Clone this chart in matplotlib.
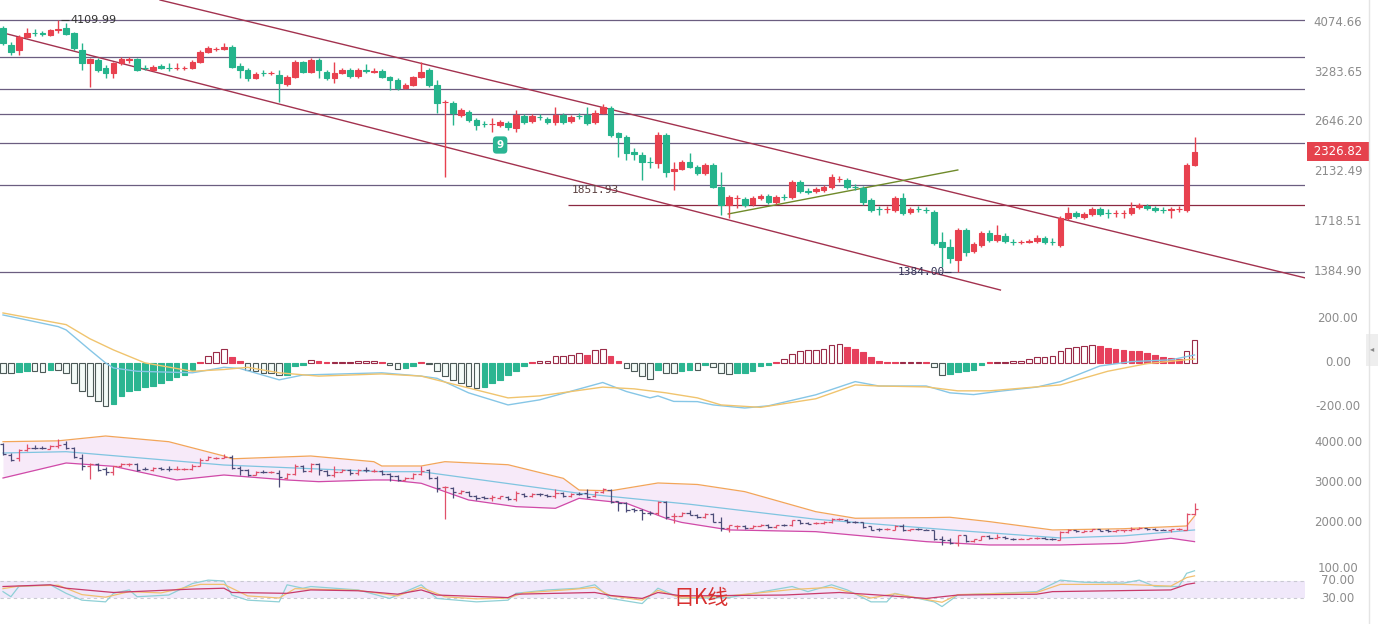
import numpy as np
import matplotlib
matplotlib.use("Agg")
import matplotlib.pyplot as plt

# ---------------- daily candles ----------------
opens = [
    3971, 3689, 3611, 3819, 3886, 3886, 3852, 3936, 3971, 3886,
    3611, 3414, 3458, 3341, 3270, 3414, 3465, 3474, 3341, 3312,
    3370, 3341, 3341, 3336, 3341, 3429, 3580, 3627, 3627, 3658,
    3370, 3312, 3200, 3270, 3265, 3242, 3118, 3214, 3429, 3284,
    3458, 3284, 3200, 3270, 3312, 3228, 3312, 3290, 3298, 3214,
    3172, 3065, 3105, 3214, 3312, 3105, 2885, 2873, 2728, 2763,
    2669, 2624, 2620, 2612, 2635, 2579, 2716, 2658, 2704, 2681,
    2646, 2728, 2658, 2716, 2728, 2646, 2751, 2811, 2524, 2481,
    2325, 2295, 2227, 2217, 2502, 2142, 2160, 2227, 2179, 2123,
    2198, 1999, 1849, 1906, 1898, 1858, 1906, 1923, 1874, 1915,
    1915, 2042, 1965, 1965, 1973, 1999, 2069, 2060, 1999, 1990,
    1890, 1818, 1814, 1810, 1906, 1795, 1818, 1810, 1795, 1576,
    1543, 1458, 1660, 1516, 1556, 1639, 1590, 1618, 1576, 1573,
    1576, 1583, 1604, 1576, 1556, 1749, 1787, 1756, 1779, 1818,
    1787, 1783, 1787, 1787, 1834, 1842, 1826, 1810, 1810, 1814,
    1810, 2198,
]
highs = [
    4005, 3738, 3852, 3971, 3953, 3919, 3953, 4110, 4057, 3902,
    3722, 3489, 3489, 3385, 3429, 3504, 3504, 3489, 3385, 3385,
    3400, 3414, 3414, 3370, 3458, 3611, 3674, 3658, 3722, 3689,
    3414, 3341, 3284, 3312, 3298, 3312, 3242, 3458, 3444, 3489,
    3489, 3312, 3429, 3341, 3341, 3341, 3400, 3341, 3327, 3228,
    3200, 3132, 3228, 3429, 3341, 3172, 2910, 2898, 2811, 2787,
    2693, 2658, 2693, 2669, 2658, 2787, 2740, 2740, 2740, 2704,
    2824, 2751, 2728, 2751, 2824, 2787, 2860, 2836, 2535, 2502,
    2366, 2325, 2275, 2535, 2524, 2227, 2246, 2315, 2198, 2217,
    2217, 2132, 1931, 1931, 1915, 1923, 1940, 1940, 1931, 1940,
    2060, 2060, 1990, 1999, 2016, 2114, 2096, 2078, 2025, 2008,
    1906, 1842, 1842, 1923, 1948, 1834, 1842, 1834, 1810, 1646,
    1597, 1674, 1674, 1576, 1653, 1660, 1696, 1639, 1597, 1590,
    1597, 1625, 1618, 1604, 1764, 1834, 1802, 1795, 1834, 1834,
    1818, 1810, 1810, 1874, 1866, 1858, 1842, 1834, 1834, 1842,
    2217, 2481,
]
lows = [
    3689, 3534, 3534, 3803, 3836, 3836, 3836, 3886, 3852, 3611,
    3312, 3078, 3284, 3200, 3200, 3385, 3414, 3298, 3312, 3298,
    3327, 3298, 3312, 3312, 3327, 3414, 3565, 3595, 3611, 3341,
    3200, 3159, 3186, 3228, 3242, 2885, 3092, 3200, 3270, 3270,
    3200, 3172, 3132, 3256, 3200, 3200, 3270, 3270, 3200, 3038,
    3038, 3052, 3092, 3200, 3078, 2751, 2087, 2612, 2704, 2646,
    2557, 2590, 2535, 2590, 2557, 2535, 2624, 2635, 2669, 2624,
    2612, 2624, 2635, 2681, 2612, 2624, 2740, 2481, 2275, 2246,
    2246, 2060, 2170, 2170, 2087, 1973, 2151, 2170, 2105, 2105,
    1990, 1771, 1749, 1826, 1834, 1842, 1890, 1858, 1858, 1890,
    1898, 1948, 1940, 1948, 1956, 1982, 2042, 1982, 1973, 1849,
    1795, 1771, 1787, 1795, 1771, 1779, 1795, 1787, 1556, 1415,
    1440, 1384, 1484, 1503, 1543, 1576, 1576, 1570, 1556, 1563,
    1570, 1570, 1563, 1556, 1543, 1733, 1749, 1741, 1764, 1764,
    1749, 1756, 1749, 1771, 1818, 1810, 1795, 1787, 1749, 1795,
    1795, 2189,
]
closes = [
    3722, 3580, 3819, 3886, 3880, 3875, 3936, 3953, 3869, 3642,
    3414, 3474, 3312, 3270, 3414, 3474, 3474, 3312, 3335, 3356,
    3341, 3338, 3345, 3345, 3429, 3580, 3642, 3630, 3658, 3356,
    3312, 3200, 3256, 3265, 3270, 3132, 3214, 3429, 3284, 3458,
    3312, 3200, 3270, 3312, 3228, 3312, 3305, 3300, 3214, 3172,
    3065, 3105, 3214, 3284, 3105, 2873, 2890, 2751, 2787, 2669,
    2612, 2620, 2624, 2646, 2590, 2728, 2646, 2716, 2700, 2646,
    2728, 2646, 2704, 2712, 2635, 2751, 2824, 2502, 2481, 2315,
    2305, 2227, 2222, 2502, 2132, 2160, 2227, 2179, 2123, 2198,
    1999, 1849, 1915, 1910, 1849, 1906, 1923, 1874, 1915, 1912,
    2042, 1965, 1960, 1982, 1999, 2087, 2072, 1999, 1995, 1874,
    1810, 1814, 1818, 1906, 1787, 1818, 1814, 1806, 1570, 1543,
    1471, 1660, 1510, 1563, 1639, 1590, 1625, 1583, 1573, 1576,
    1583, 1604, 1576, 1573, 1749, 1787, 1764, 1779, 1818, 1779,
    1783, 1787, 1790, 1826, 1849, 1826, 1810, 1806, 1814, 1818,
    2198, 2326.82,
]

# horizontal levels and trend lines on the price panel
levels = [4109.99, 3504, 3051, 2739, 2417, 2016, 1384]
level_1851 = 1851.93
level_1851_start = 71.6
upper_channel = ([19.9, 165.0], [4481, 1350])
lower_channel = ([-0.4, 126.4], [3902, 1281])
olive_line = ([91.9, 121.0], [1779, 2151])
price_ticks = [4074.66, 3283.65, 2646.20, 2132.49, 1718.51, 1384.90]
last_price = 2326.82

# MACD histogram (one per candle) and DIF / DEA lines
macd_hist = [
    -47, -47, -42, -38, -38, -42, -30, -30, -45, -91,
    -129, -152, -174, -197, -185, -152, -129, -121, -109, -103,
    -91, -79, -64, -53, -33, 3, 33, 48, 61, 27,
    8, -30, -38, -45, -48, -56, -55, -15, -8, 12,
    8, 4, 4, 5, 6, 8, 10, 10, 5, -10,
    -28, -25, -15, 3, -5, -38, -58, -76, -91, -103,
    -114, -109, -91, -76, -53, -38, -15, 5, 8, 10,
    30, 33, 38, 45, 38, 58, 65, 33, 8, -23,
    -38, -58, -73, -30, -45, -48, -38, -33, -33, -10,
    -20, -45, -50, -48, -45, -38, -15, -8, 5, 20,
    42, 53, 58, 58, 65, 80, 85, 73, 65, 48,
    27, 8, 5, 4, 4, 4, 4, 3, -20, -55,
    -50, -42, -38, -30, -8, 3, 5, 6, 8, 10,
    17, 27, 27, 30, 53, 68, 71, 76, 82, 76,
    68, 61, 58, 56, 53, 45, 38, 27, 23, 18,
    53, 103,
]
dif_idx = [0, 7, 8, 11, 13, 14, 17, 24, 28, 30, 35, 38, 48, 53, 55, 59, 64, 68,
           76, 79, 82, 83, 85, 88, 90, 94, 97, 103, 108, 111, 117, 120, 123, 126,
           131, 134, 139, 143, 148, 151]
dif_val = [218, 165, 150, 59, 0, -23, -38, -45, -20, -25, -77, -55, -45, -60, -70,
           -136, -191, -168, -89, -130, -159, -150, -175, -176, -191, -205, -195,
           -145, -85, -105, -105, -136, -144, -130, -110, -85, -14, 6, 14, 36]
dea_idx = [0, 8, 11, 14, 18, 24, 28, 31, 35, 40, 48, 53, 59, 64, 68, 76, 80, 84,
           88, 91, 96, 103, 108, 111, 117, 121, 125, 134, 140, 145, 151]
dea_val = [227, 174, 110, 59, 0, -38, -30, -20, -45, -60, -50, -60, -114, -159,
           -150, -110, -118, -136, -159, -191, -202, -163, -100, -105, -109, -127,
           -127, -100, -38, -3, 18]
macd_ticks = [200, 0, -200]

# Bollinger bands
upper_idx = [0, 7, 13, 21, 28, 29, 39, 47, 48, 53, 56, 64, 71, 73, 77, 83, 88, 94,
             103, 108, 117, 120, 125, 133, 142, 150, 151]
upper_val = [4033, 4055, 4177, 4033, 3671, 3600, 3671, 3527, 3418, 3418, 3527, 3450,
             3106, 2810, 2790, 2988, 2950, 2769, 2262, 2095, 2110, 2120, 2010, 1799,
             1830, 1900, 2150]
mid_idx = [0, 8, 28, 48, 53, 73, 87, 103, 120, 134, 142, 151]
mid_val = [3747, 3780, 3443, 3274, 3274, 2727, 2450, 2070, 1799, 1597, 1650, 1799]
lower_idx = [0, 8, 14, 22, 28, 36, 40, 47, 49, 53, 59, 65, 70, 73, 79, 84, 86, 92,
             103, 117, 125, 134, 142, 148, 151]
lower_val = [3114, 3494, 3410, 3064, 3190, 3064, 3021, 3064, 3064, 2980, 2558, 2389,
             2347, 2600, 2474, 2095, 1990, 1800, 1756, 1503, 1419, 1419, 1460, 1589,
             1503]
boll_ticks = [4000, 3000, 2000]

# RSI lines
rsi_fast_idx = [0, 1, 2, 6, 8, 10, 13, 14, 16, 17, 21, 24, 26, 28, 29, 31, 35, 36,
                38, 39, 45, 49, 53, 55, 60, 64, 65, 69, 73, 75, 77, 81, 83, 86, 92,
                100, 102, 105, 107, 110, 112, 113, 118, 119, 121, 131, 134, 137, 142,
                144, 146, 149, 150, 151]
rsi_fast_val = [45, 33, 57, 61, 41, 25, 21, 41, 49, 33, 37, 64, 72, 70, 37, 25, 21,
                61, 53, 57, 49, 29, 61, 29, 21, 25, 41, 49, 53, 61, 29, 17, 53, 29,
                31, 57, 45, 61, 49, 21, 21, 41, 21, 10, 37, 45, 72, 67, 65, 72, 57,
                57, 88, 94]
rsi_mid_idx = [0, 2, 7, 10, 13, 16, 20, 25, 28, 31, 35, 37, 45, 50, 53, 56, 60, 64,
               66, 72, 75, 77, 81, 83, 86, 92, 100, 105, 110, 113, 119, 121, 131,
               134, 142, 148, 150, 151]
rsi_mid_val = [52, 58, 60, 38, 32, 45, 42, 62, 62, 35, 30, 52, 48, 35, 55, 33, 28,
               30, 42, 50, 55, 35, 25, 48, 30, 35, 50, 55, 30, 40, 20, 38, 43, 62,
               62, 58, 78, 82]
rsi_slow_idx = [0, 6, 8, 14, 24, 28, 29, 36, 39, 45, 50, 53, 55, 64, 65, 75, 77, 81,
                83, 86, 99, 106, 111, 117, 121, 131, 133, 148, 150, 151]
rsi_slow_val = [57, 61, 53, 43, 51, 53, 43, 41, 49, 47, 39, 49, 37, 31, 39, 43, 36,
                29, 43, 35, 37, 43, 37, 29, 37, 39, 45, 49, 62, 65]
rsi_ticks = [100, 70, 30]

# ---------------- styling ----------------
RED = "#e8414f"
GREEN = "#25b48c"
W, H = 1380, 624
AX_W = 1305
XLIM = (-0.38, 165.0)
LABEL_X = 1338 / AX_W
LABEL_KW = dict(ha="center", va="center", fontsize=8.5, color="#8c8c8c")

opens = np.array(opens, float)
highs = np.array(highs, float)
lows = np.array(lows, float)
closes = np.array(closes, float)
x = np.arange(len(closes))
up = closes >= opens
cols = np.where(up, RED, GREEN)

fig = plt.figure(figsize=(W / 100, H / 100), dpi=100)
fig.patch.set_facecolor("white")


def panel(top, bottom):
    ax = fig.add_axes([0, 1 - bottom / H, AX_W / W, (bottom - top) / H])
    ax.set_axis_off()
    ax.set_xlim(*XLIM)
    return ax


def right_labels(ax, ticks):
    tr = ax.get_yaxis_transform()
    for v in ticks:
        ax.text(LABEL_X, v, f"{v:.2f}", transform=tr, clip_on=False, **LABEL_KW)


# ---- price panel ----
ax = panel(0, 300)
ax.set_yscale("log")
ax.set_ylim(1227, 4481)
for lv in levels:
    ax.axhline(lv, color="#6b5d80", lw=0.9, zorder=1)
ax.hlines(level_1851, level_1851_start, XLIM[1], color="#8b2942", lw=0.9, zorder=1)
ax.plot(*upper_channel, color="#a3324f", lw=1.0, zorder=1)
ax.plot(*lower_channel, color="#a3324f", lw=1.0, zorder=1)
ax.plot(*olive_line, color="#6f8a2a", lw=1.0, zorder=1)

ax.vlines(x, lows, highs, colors=cols, lw=1.0, zorder=2)
ax.bar(x, np.abs(closes - opens), bottom=np.minimum(opens, closes), width=0.72,
       color=cols, edgecolor=cols, lw=0.8, zorder=3)

ax.text(8.6, 4109.99, "4109.99", fontsize=8, color="#333", va="center", ha="left")
ax.hlines(4109.99, 7.3, 8.4, color="#333", lw=0.8)
ax.text(72.1, 1973, "1851.93", fontsize=8, color="#5a4040", va="center", ha="left",
        family="DejaVu Sans Mono")
ax.text(113.4, 1386, "1384.00", fontsize=8, color="#333355", va="center", ha="left",
        family="DejaVu Sans Mono")
ax.hlines(1386, 119.3, 120.2, color="#333355", lw=0.8)
ax.text(63, 2396, "9", ha="center", va="center", color="white", fontsize=7.5,
        fontweight="bold",
        bbox=dict(boxstyle="round,pad=0.35", fc="#2bb594", ec="none"))
right_labels(ax, price_ticks)
ax.text(LABEL_X, last_price, f" {last_price:.2f} ", transform=ax.get_yaxis_transform(),
        ha="center", va="center", fontsize=8.5, color="white", clip_on=False,
        bbox=dict(boxstyle="square,pad=0.25", fc="#e5424d", ec="none"))

# ---- MACD panel ----
ax2 = panel(300, 430)
ax2.set_ylim(-305, 286)
hist = np.array(macd_hist, float)
prev = np.concatenate([[0.0], hist[:-1]])
hollow = np.abs(hist) >= np.abs(prev)
face, edge = [], []
for h, ho in zip(hist, hollow):
    if h >= 0:
        face.append("white" if ho else "#e6405c")
        edge.append("#9a2b48" if ho else "#e6405c")
    else:
        face.append("#f4fbf8" if ho else "#2bb591")
        edge.append("#4d5a58" if ho else "#2bb591")
ax2.bar(x, hist, width=0.72, color=face, edgecolor=edge, lw=0.8, zorder=2)
ax2.plot(dif_idx, dif_val, color="#86c6e6", lw=1.0, zorder=3)
ax2.plot(dea_idx, dea_val, color="#f0c46e", lw=1.0, zorder=3)
right_labels(ax2, macd_ticks)

# ---- BOLL panel ----
ax3 = panel(430, 555)
ax3.set_ylim(1165, 4329)
ub = np.interp(x, upper_idx, upper_val)
lb = np.interp(x, lower_idx, lower_val)
ax3.fill_between(x, lb, ub, color="#f7eaf9", lw=0, zorder=1)
ax3.plot(upper_idx, upper_val, color="#f2a55a", lw=0.9, zorder=2)
ax3.plot(mid_idx, mid_val, color="#7fc4e0", lw=0.9, zorder=2)
ax3.plot(lower_idx, lower_val, color="#d04aa8", lw=0.9, zorder=2)
bcols = np.where(up, "#e0506a", "#4b4b78")
ax3.vlines(x, lows, highs, colors=bcols, lw=0.9, zorder=3)
ax3.hlines(opens, x - 0.4, x, colors=bcols, lw=0.9, zorder=3)
ax3.hlines(closes, x, x + 0.4, colors=bcols, lw=0.9, zorder=3)
right_labels(ax3, boll_ticks)

# ---- RSI panel ----
ax4 = panel(555, 624)
ax4.set_ylim(-31, 131)
ax4.axhspan(30, 70, color="#f0e8fa", lw=0, zorder=1)
ax4.axhline(70, color="#c9c9d2", lw=0.8, ls=(0, (3, 3)), zorder=1)
ax4.axhline(30, color="#c9c9d2", lw=0.8, ls=(0, (3, 3)), zorder=1)
ax4.plot(rsi_fast_idx, rsi_fast_val, color="#8fd0d6", lw=0.9, zorder=2)
ax4.plot(rsi_mid_idx, rsi_mid_val, color="#f2c070", lw=0.9, zorder=2)
ax4.plot(rsi_slow_idx, rsi_slow_val, color="#c83a6a", lw=0.9, zorder=2)
right_labels(ax4, rsi_ticks)

fig.text(701 / W, 1 - 598 / H, "日K线", color="#d83030", fontsize=15,
         ha="center", va="center", family=["Noto Sans CJK SC", "DejaVu Sans"])

# right border and collapse tab
fig.add_artist(plt.Line2D([1369 / W, 1369 / W], [0, 1], color="#e4e4e4", lw=1))
fig.add_artist(plt.Rectangle((1366 / W, 1 - 366 / H), 12 / W, 32 / H,
                             fc="#eeeeee", ec="none"))
fig.text(1372 / W, 1 - 349 / H, "◂", fontsize=6, color="#888", ha="center", va="center")

fig.savefig("out.png", dpi=100, facecolor="white")
